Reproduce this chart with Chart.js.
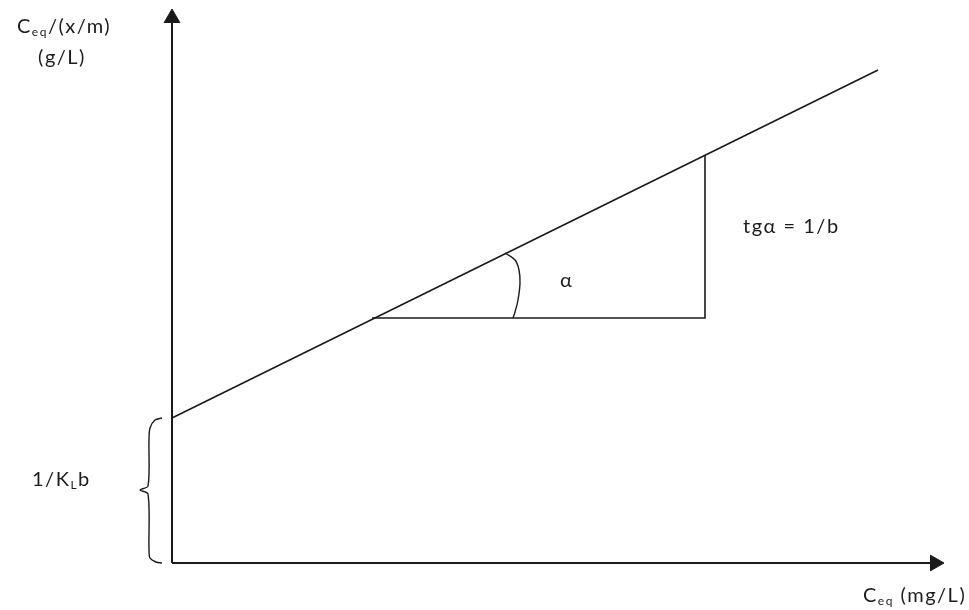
<!DOCTYPE html>
<html>
<head>
<meta charset="utf-8">
<script src="https://cdn.jsdelivr.net/npm/chart.js@4/dist/chart.umd.min.js"></script>
<style>
  html, body { margin: 0; padding: 0; background: #fff; }
  #wrap { width: 969px; height: 610px; position: relative; }
</style>
</head>
<body>
<div id="wrap"><canvas id="langmuir"></canvas></div>
<script>
// schematic Langmuir plot, data units with the origin at the axes corner
const xAxisPts = [{ x: 0, y: 0 }, { x: 763, y: 0 }];
const yAxisPts = [{ x: 0, y: 0 }, { x: 0, y: 545 }];
const isotherm = [{ x: 0, y: 145 }, { x: 706, y: 493 }];
const slopeTriangle = [{ x: 200, y: 245 }, { x: 533, y: 245 }, { x: 533, y: 408 }];
const angleArc = [
    { x: 333, y: 310 }, { x: 343, y: 303 }, { x: 347, y: 293 }, { x: 348, y: 280 },
    { x: 346, y: 263 }, { x: 343, y: 251 }, { x: 341, y: 245 }
];
const interceptBrace = [
    { x: -10, y: 145 }, { x: -17, y: 143 }, { x: -22, y: 135 }, { x: -23, y: 123 },
    { x: -24, y: 77 }, { x: -32, y: 73 }, { x: -24, y: 69 }, { x: -23, y: 13 },
    { x: -22, y: 5 }, { x: -16, y: 1 }, { x: -10, y: 0 }
];

// label text runs: [text, isSubscript]
const labelRuns = [
    [['C', 0], ['eq', 1], ['/(x/m)', 0]],
    [['(g/L)', 0]],
    [['1/K', 0], ['L', 1], ['b', 0]],
    [['tgα = 1/b', 0]],
    [['α', 0]],
    [['C', 0], ['eq', 1], [' (mg/L)', 0]]
];
const labelAnchors = [
    { x: -155, y: 530, align: 'left' },
    { x: -110, y: 499, align: 'center' },
    { x: -140, y: 77, align: 'left' },
    { x: 571, y: 330, align: 'left' },
    { x: 388, y: 276, align: 'left' },
    { x: 691, y: -39, align: 'left' }
];

const ink = '#1a1a1a';
const textInk = '#1c1c1c';

const lineSet = (data, width, extra) => Object.assign({
    data: data,
    showLine: true,
    borderColor: ink,
    borderWidth: width,
    pointRadius: 0,
    fill: false,
    clip: false
}, extra || {});

const arrowSet = (data, rotation) => lineSet(data, 2, {
    pointRadius: [0, 9],
    pointStyle: 'triangle',
    pointRotation: [0, rotation],
    pointBackgroundColor: ink,
    pointBorderColor: ink,
    pointBorderWidth: 1
});

const labelPlugin = {
    id: 'labels',
    afterDatasetsDraw(chart) {
        const { ctx, scales } = chart;
        const base = 20, sub = 12;
        ctx.save();
        ctx.fillStyle = textInk;
        ctx.textBaseline = 'alphabetic';
        ctx.letterSpacing = '1.5px';
        labelRuns.forEach((runs, i) => {
            const a = labelAnchors[i];
            let width = 0;
            runs.forEach(([t, s]) => {
                ctx.font = (s ? sub : base) + 'px Lato';
                width += ctx.measureText(t).width;
            });
            let px = scales.x.getPixelForValue(a.x);
            const py = scales.y.getPixelForValue(a.y);
            if (a.align === 'center') px -= width / 2;
            runs.forEach(([t, s]) => {
                ctx.font = (s ? sub : base) + 'px Lato';
                ctx.textAlign = 'left';
                ctx.fillText(t, px, py + (s ? 3 : 0));
                px += ctx.measureText(t).width;
            });
        });
        ctx.restore();
    }
};

new Chart(document.getElementById('langmuir').getContext('2d'), {
    type: 'scatter',
    data: {
        datasets: [
            arrowSet(xAxisPts, 90),
            arrowSet(yAxisPts, 0),
            lineSet(isotherm, 1.6),
            lineSet(slopeTriangle, 1.6),
            lineSet(angleArc, 1.4, { tension: 0.4 }),
            lineSet(interceptBrace, 1.4, { tension: 0.3 })
        ]
    },
    options: {
        responsive: true,
        maintainAspectRatio: false,
        animation: false,
        events: [],
        layout: { padding: 0, autoPadding: false },
        plugins: { legend: { display: false }, tooltip: { enabled: false } },
        scales: {
            x: { type: 'linear', min: -172, max: 797, display: false },
            y: { type: 'linear', min: -47, max: 563, display: false }
        }
    },
    plugins: [labelPlugin]
});
</script>
</body>
</html>
